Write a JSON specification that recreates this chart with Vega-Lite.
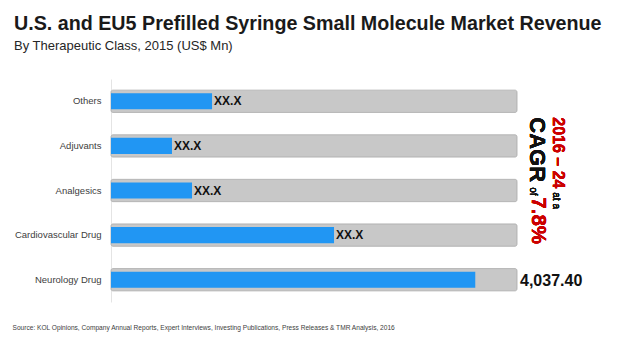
{
  "$schema": "https://vega.github.io/schema/vega-lite/v6.json",
  "autosize": {"type": "none"},
  "width": 406,
  "height": 223,
  "padding": {"left": 111, "top": 79, "right": 103, "bottom": 40},
  "background": "white",
  "config": {"view": {"stroke": null}, "font": "Liberation Sans"},
  "title": {
    "text": "U.S. and EU5 Prefilled Syringe Small Molecule Market Revenue",
    "subtitle": "By Therapeutic Class, 2015 (US$ Mn)",
    "anchor": "start",
    "frame": "group",
    "dx": -97,
    "offset": 26,
    "font": "Liberation Sans",
    "fontSize": 19.7,
    "fontWeight": "bold",
    "color": "#1a1a1a",
    "subtitleFont": "Liberation Sans",
    "subtitleFontSize": 13,
    "subtitleColor": "#262626",
    "subtitlePadding": 6
  },
  "data": {
    "values": [
      {"cat": "Others", "value": 1120, "total": 4500, "label": "XX.X"},
      {"cat": "Adjuvants", "value": 676, "total": 4500, "label": "XX.X"},
      {"cat": "Analgesics", "value": 898, "total": 4500, "label": "XX.X"},
      {"cat": "Cardiovascular Drug", "value": 2472, "total": 4500, "label": "XX.X"},
      {"cat": "Neurology Drug", "value": 4037.4, "total": 4500, "label": "4,037.40"}
    ]
  },
  "encoding": {
    "y": {
      "field": "cat",
      "type": "nominal",
      "sort": ["Others", "Adjuvants", "Analgesics", "Cardiovascular Drug", "Neurology Drug"],
      "scale": {"paddingInner": 0.5, "paddingOuter": 0.25},
      "axis": {
        "title": null,
        "ticks": false,
        "domain": true,
        "domainColor": "#e4e4e4",
        "labelPadding": 10,
        "labelFontSize": 9.5,
        "labelColor": "#404040",
        "labelFont": "Liberation Sans"
      }
    }
  },
  "layer": [
    {
      "mark": {"type": "bar", "color": "#c8c8c8", "stroke": "#b8b8b8", "strokeWidth": 1, "cornerRadius": 2, "height": {"band": 1}},
      "encoding": {
        "x": {
          "field": "total",
          "type": "quantitative",
          "scale": {"domain": [0, 4500], "nice": false},
          "axis": {
            "labels": false,
            "ticks": false,
            "domain": false,
            "grid": false,
            "title": "Source: KOL Opinions, Company Annual Reports, Expert Interviews, Investing Publications, Press Releases & TMR Analysis, 2016",
            "titleAnchor": "start",
            "titleAlign": "left",
            "titleX": -99,
            "titleY": 27,
            "titleBaseline": "alphabetic",
            "titleFontSize": 6.6,
            "titleFontWeight": "normal",
            "titleColor": "#404040",
            "titleFont": "Liberation Sans"
          }
        }
      }
    },
    {
      "mark": {"type": "bar", "color": "#2196f3", "height": {"band": 0.72}},
      "encoding": {"x": {"field": "value", "type": "quantitative"}}
    },
    {
      "transform": [{"filter": "datum.cat !== 'Neurology Drug'"}],
      "mark": {"type": "text", "align": "left", "baseline": "middle", "dx": 2, "fontSize": 12, "fontWeight": "bold", "color": "#111111"},
      "encoding": {
        "x": {"field": "value", "type": "quantitative"},
        "text": {"field": "label"}
      }
    },
    {
      "transform": [{"filter": "datum.cat === 'Neurology Drug'"}],
      "mark": {"type": "text", "align": "left", "baseline": "middle", "dx": 3, "dy": 1, "fontSize": 16, "fontWeight": "bold", "color": "#111111"},
      "encoding": {
        "x": {"field": "total", "type": "quantitative"},
        "text": {"field": "label"}
      }
    },
    {
      "mark": {"type": "text", "text": "CAGR", "angle": 90, "align": "left", "baseline": "alphabetic", "dx": 16, "fontSize": 22, "fontWeight": "bold", "color": "#111111"},
      "encoding": {"x": {"datum": 4644, "type": "quantitative"}, "y": {"datum": "Others"}}
    },
    {
      "mark": {"type": "text", "text": "of", "angle": 90, "align": "left", "baseline": "alphabetic", "dx": 86, "fontSize": 10, "color": "#111111"},
      "encoding": {"x": {"datum": 4644, "type": "quantitative"}, "y": {"datum": "Others"}}
    },
    {
      "mark": {"type": "text", "text": "7.8%", "angle": 90, "align": "left", "baseline": "alphabetic", "dx": 96, "fontSize": 20.5, "fontWeight": "bold", "color": "#cc0000"},
      "encoding": {"x": {"datum": 4666, "type": "quantitative"}, "y": {"datum": "Others"}}
    },
    {
      "mark": {"type": "text", "text": "2016 – 24", "angle": 90, "align": "left", "baseline": "alphabetic", "dx": 16, "fontSize": 16, "fontWeight": "bold", "color": "#cc0000"},
      "encoding": {"x": {"datum": 4899, "type": "quantitative"}, "y": {"datum": "Others"}}
    },
    {
      "mark": {"type": "text", "text": "at a", "angle": 90, "align": "left", "baseline": "alphabetic", "dx": 91, "fontSize": 10, "color": "#111111"},
      "encoding": {"x": {"datum": 4899, "type": "quantitative"}, "y": {"datum": "Others"}}
    }
  ]
}
